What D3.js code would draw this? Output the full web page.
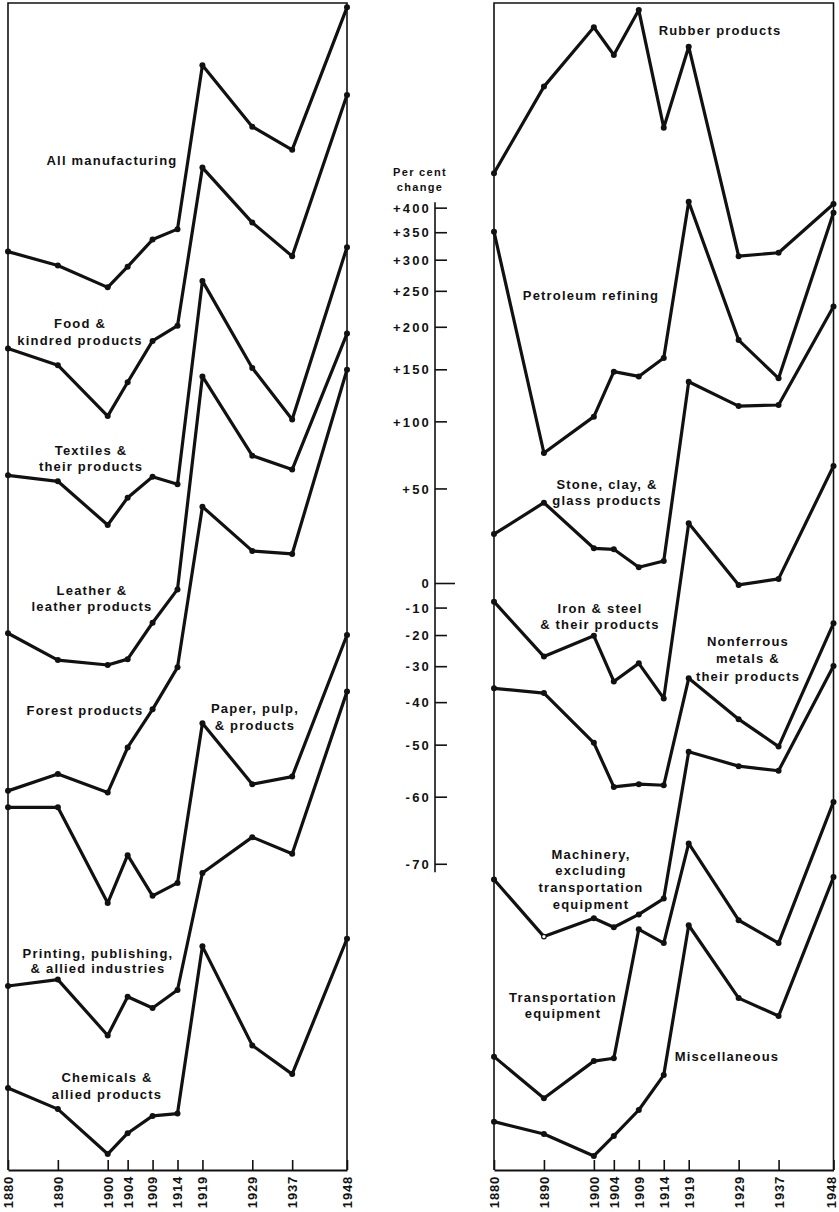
<!DOCTYPE html>
<html>
<head>
<meta charset="utf-8">
<script src="https://cdn.jsdelivr.net/npm/d3@7"></script>
<style>
  body { margin: 0; background: #fff; }
  svg { display: block; }
  text { font-family: "Liberation Sans", "DejaVu Sans", sans-serif; font-weight: bold; fill: #111; }
</style>
</head>
<body>
<div id="ch"></div>
<script>
// Industry series plotted on a ratio (log) scale, each one shifted vertically
// values are index numbers (100 = the "0" line of the scale)

const years = [1880, 1890, 1900, 1904, 1909, 1914, 1919, 1929, 1937, 1948];

/* left panel */
const allManufacturing = [415, 391, 356, 389, 437, 457, 923, 709, 642, 1183];
const foodProducts = [274, 255, 205, 237, 283, 302, 595, 470, 407, 812];
const textiles = [159, 155, 128.5, 144.5, 158, 153, 366, 252, 202, 423];
const leather = [80.8, 72.0, 70.5, 72.3, 84.5, 97.5, 243, 173, 163, 292];
const forestProducts = [41.1, 44.2, 40.8, 49.5, 58.3, 69.8, 139, 115, 113.5, 250];
const paperPulp = [38.3, 38.3, 25.4, 31.2, 26.2, 27.7, 54.9, 42.3, 43.7, 80.2];
const printing = [17.8, 18.3, 14.4, 17.0, 16.2, 17.5, 28.9, 33.7, 31.4, 62.9];
const chemicals = [11.5, 10.5, 8.66, 9.47, 10.2, 10.3, 21.1, 13.8, 12.2, 21.8];

/* right panel */
const rubber = [581, 842, 1086, 964, 1169, 706, 999, 407, 413, 509];
const petroleum = [452, 175, 204.5, 248, 243, 263, 514, 284, 241, 490];
const stoneClayGlass = [123.6, 141.4, 116.3, 115.8, 107.2, 110.1, 237.5, 214, 215, 328];
const ironSteel = [92.5, 73.1, 79.9, 65.7, 71.0, 61.1, 129.5, 99.4, 102, 165.5];
const nonferrous = [63.8, 62.5, 50.5, 41.8, 42.3, 42.1, 66.6, 55.9, 49.7, 84.3];
const machinery = [28.1, 22.0, 23.8, 22.9, 24.2, 25.9, 48.6, 45.7, 44.8, 70.2];
const transportation = [13.15, 11.0, 12.9, 13.06, 22.7, 21.4, 32.8, 23.6, 21.4, 39.2];
const miscellaneous = [9.95, 9.44, 8.59, 9.36, 10.46, 12.15, 23.1, 16.9, 15.65, 28.4];

// machinery 1890 is drawn as an open circle in the original
const machineryOpenYears = [1890];

const pctTicks = [400, 350, 300, 250, 200, 150, 100, 50, 0, -10, -20, -30, -40, -50, -60, -70];
const pctLabels = ["+400", "+350", "+300", "+250", "+200", "+150", "+100", "+50",
  "0", "-10", "-20", "-30", "-40", "-50", "-60", "-70"];

const leftSeries = [
  { values: allManufacturing, label: ["All manufacturing"] },
  { values: foodProducts, label: ["Food &", "kindred products"] },
  { values: textiles, label: ["Textiles &", "their products"] },
  { values: leather, label: ["Leather &", "leather products"] },
  { values: forestProducts, label: ["Forest products"] },
  { values: paperPulp, label: ["Paper, pulp,", "& products"] },
  { values: printing, label: ["Printing, publishing,", "& allied industries"] },
  { values: chemicals, label: ["Chemicals &", "allied products"] }
];
const rightSeries = [
  { values: rubber, label: ["Rubber products"] },
  { values: petroleum, label: ["Petroleum refining"] },
  { values: stoneClayGlass, label: ["Stone, clay, &", "glass products"] },
  { values: ironSteel, label: ["Iron & steel", "& their products"] },
  { values: nonferrous, label: ["Nonferrous", "metals &", "their products"] },
  { values: machinery, label: ["Machinery,", "excluding", "transportation", "equipment"], open: machineryOpenYears },
  { values: transportation, label: ["Transportation", "equipment"] },
  { values: miscellaneous, label: ["Miscellaneous"] }
];

// where the text labels sit (centre x, first baseline, line gap)
const leftLabelPos = [[112, 165, 17], [80, 327.5, 17.5], [91, 454.5, 16.5], [92, 594.5, 16.5],
  [85, 714.5, 17], [255, 712.5, 17], [98, 957.5, 15.5], [107, 1081.5, 17]];
const rightLabelPos = [[720, 35, 17], [591, 299.5, 17], [607, 488.5, 16.5], [600, 612.5, 16.5],
  [748, 646, 17.3], [591, 858.5, 16.7], [563, 1001.5, 16.7], [727, 1060.5, 17]];

/* Dimensions */
const width = 839;
const height = 1212;
const frameTop = 3;
const frameBottom = 1170;

const svg = d3.select("#ch")
  .append("svg")
  .attr("width", width)
  .attr("height", height);

const y = d3.scaleLog()
  .domain([10, 1000])
  .range([1120.5, 46.5]);

const xLeft = d3.scaleLinear().domain([1880, 1948]).range([8, 347]);
const xRight = d3.scaleLinear().domain([1880, 1948]).range([494, 833.5]);

const drawPanel = (x, series, labelPos, lastShift) => {
  const g = svg.append("g");

  // frame
  g.append("path")
    .attr("d", `M${x(1880)},${frameBottom}V${frameTop}H${x(1948)}V${frameBottom}`)
    .attr("fill", "none")
    .attr("stroke", "#111")
    .attr("stroke-width", 1.6);

  // year axis
  const ax = g.append("g")
    .attr("transform", `translate(0,${frameBottom})`)
    .call(d3.axisBottom(x).tickValues(years).tickFormat(d3.format("d")).tickSize(-10).tickSizeOuter(0));
  ax.select(".domain").attr("stroke", "#111").attr("stroke-width", 2.2);
  ax.selectAll(".tick line").attr("stroke", "#111").attr("stroke-width", 1.6);
  ax.selectAll(".tick text")
    .attr("transform", "rotate(-90)")
    .attr("text-anchor", "end")
    .attr("x", -6)
    .attr("y", (d) => (d === 1948 ? -lastShift : 0))
    .attr("dy", "0.34em")
    .style("font-size", "13px")
    .style("font-family", "'Liberation Sans', sans-serif")
    .style("font-weight", "bold")
    .style("letter-spacing", "0.8px")
    .attr("fill", "#111");

  const line = d3.line()
    .x((d, i) => x(years[i]))
    .y((d) => y(d));

  series.forEach((s, k) => {
    g.append("path")
      .datum(s.values)
      .attr("d", line)
      .attr("fill", "none")
      .attr("stroke", "#111")
      .attr("stroke-width", 3.2)
      .attr("stroke-linejoin", "round");

    const open = s.open || [];
    g.selectAll(null)
      .data(s.values)
      .enter()
      .append("circle")
      .attr("cx", (d, i) => x(years[i]))
      .attr("cy", (d) => y(d))
      .attr("r", (d, i) => (open.includes(years[i]) ? 2.3 : 3))
      .attr("fill", (d, i) => (open.includes(years[i]) ? "#fff" : "#111"))
      .attr("stroke", (d, i) => (open.includes(years[i]) ? "#111" : "none"))
      .attr("stroke-width", 1.2);

    const [lx, ly, gap] = labelPos[k];
    g.append("text")
      .attr("text-anchor", "middle")
      .style("font-size", "13px")
      .style("letter-spacing", "1.2px")
      .selectAll("tspan")
      .data(s.label)
      .enter()
      .append("tspan")
      .attr("x", lx)
      .attr("y", (d, i) => ly + i * gap)
      .text((d) => d);
  });
};

drawPanel(xLeft, leftSeries, leftLabelPos, 0);
drawPanel(xRight, rightSeries, rightLabelPos, 2);

/* Per cent change scale in the middle */
const mid = svg.append("g").attr("transform", "translate(435,0)");

mid.append("line")
  .attr("x1", 0).attr("x2", 0)
  .attr("y1", y(100 + 400) - 6)
  .attr("y2", y(100 - 70) + 8)
  .attr("stroke", "#111")
  .attr("stroke-width", 1.6);

mid.selectAll(".pt")
  .data(pctTicks)
  .enter()
  .append("line")
  .attr("x1", 0)
  .attr("x2", (d) => (d === 0 ? 20 : 12))
  .attr("y1", (d) => y(100 + d))
  .attr("y2", (d) => y(100 + d))
  .attr("stroke", "#111")
  .attr("stroke-width", 1.6);

mid.selectAll(".pl")
  .data(pctTicks)
  .enter()
  .append("text")
  .attr("x", -4)
  .attr("y", (d) => y(100 + d))
  .attr("dy", "0.36em")
  .attr("text-anchor", "end")
  .style("font-size", "13px")
  .style("letter-spacing", "2.2px")
  .text((d, i) => pctLabels[i]);

mid.append("text")
  .attr("text-anchor", "middle")
  .style("font-size", "11px")
  .style("letter-spacing", "1.3px")
  .selectAll("tspan")
  .data(["Per cent", "change"])
  .enter()
  .append("tspan")
  .attr("x", -15)
  .attr("y", (d, i) => 175.5 + i * 15.5)
  .text((d) => d);
</script>
</body>
</html>
